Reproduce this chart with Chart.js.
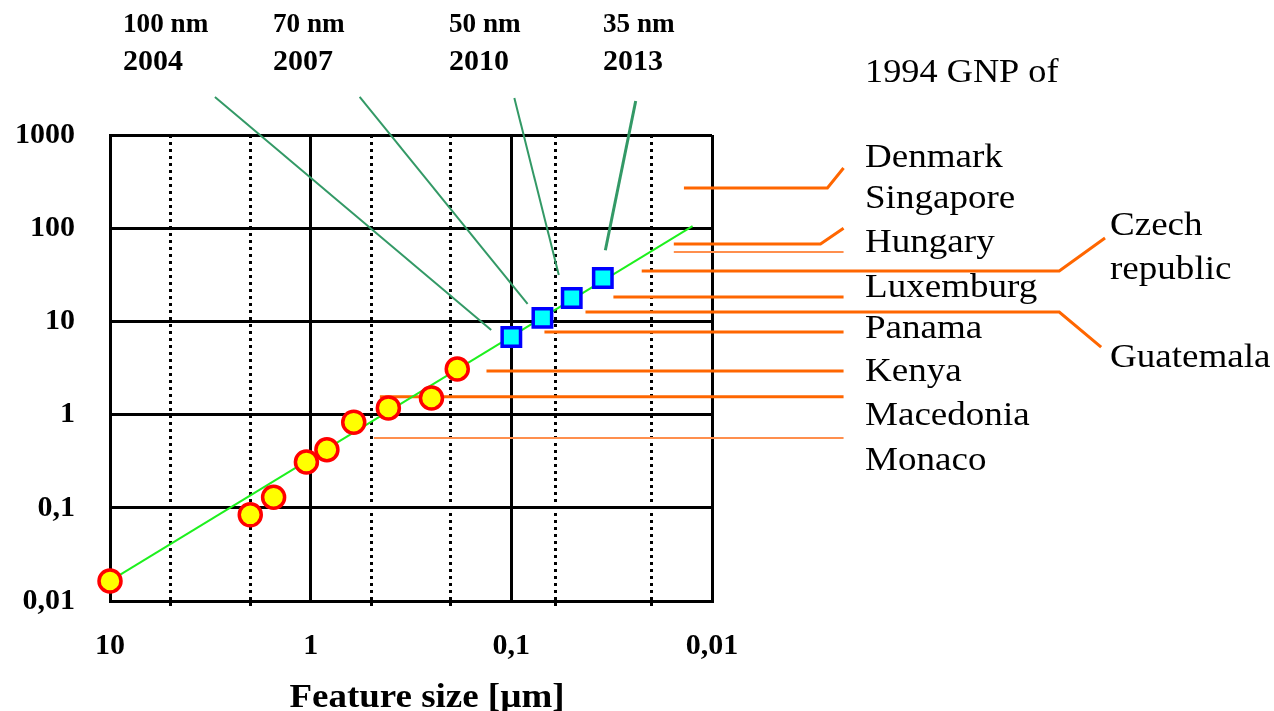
<!DOCTYPE html>
<html><head><meta charset="utf-8">
<script src="https://cdn.jsdelivr.net/npm/chart.js@4.4.1/dist/chart.umd.min.js"></script>
<style>html,body{margin:0;padding:0;background:#fff;overflow:hidden}#wrap{width:1274px;height:711px;position:relative}</style>
</head><body><div id="wrap"><canvas id="c" width="1274" height="711"></canvas></div>
<script>
// Axis ticks
const xTickValues = [10, 1, 0.1, 0.01];
const xTickLabels = ['10', '1', '0,1', '0,01'];
const xMinorGrid = [5, 2, 0.5, 0.2, 0.06, 0.02];
const yTickValues = [0.01, 0.1, 1, 10, 100, 1000];
const yTickLabels = ['0,01', '0,1', '1', '10', '100', '1000'];

// Past chips (circles): feature size [µm] vs value
const circleX = [10, 2.0, 1.53, 1.05, 0.83, 0.61, 0.41, 0.25, 0.186];
const circleY = [0.0164, 0.084, 0.13, 0.31, 0.42, 0.83, 1.18, 1.51, 3.08];

// Roadmap nodes (squares)
const nodeX = [0.1, 0.07, 0.05, 0.035];
const nodeY = [6.8, 10.9, 17.8, 29.2];
const nodeLabels = [['100 nm', '2004'], ['70 nm', '2007'], ['50 nm', '2010'], ['35 nm', '2013']];

// Trend line
const trendX = [10, 0.0125];
const trendY = [0.0164, 105];

// Connectors from node labels to squares
const connStartX = [3.0, 0.57, 0.0966, 0.024];
const connStartY = [2560, 2560, 2490, 2320];
const connEndX = [0.126, 0.083, 0.058, 0.034];
const connEndY = [8.1, 15.4, 31.5, 58];

// GNP reference lines
const gnpY = [270, 67.6, 55.6, 34.7, 18.3, 12.6, 7.7, 2.94, 1.55, 0.56];
const gnpStartX = [0.0138, 0.0155, 0.0155, 0.0224, 0.031, 0.0427, 0.0684, 0.133, 0.452, 0.484];
const gnpEndX = [0.00266, 0.00288, 0.00221, 0.000186, 0.00221, 0.000186, 0.00221, 0.00221, 0.00221, 0.00221];
const gnpBendX = [0.00221, 0.00221, null, 0.00011, null, 0.000115, null, null, null, null];
const gnpBendY = [443, 100, null, 78.5, null, 5.3, null, null, null, null];
const gnpThin = [false, false, true, false, false, false, false, false, false, true];

const gnpHeading = '1994 GNP of';
const countryNames = ['Denmark', 'Singapore', 'Hungary', 'Luxemburg', 'Panama', 'Kenya', 'Macedonia', 'Monaco'];
const sideNames = ['Czech', 'republic', 'Guatemala'];
const xAxisTitle = 'Feature size [µm]';

const SERIF = '"Liberation Serif", "Times New Roman", serif';
const pts = (xs, ys) => xs.map((x, i) => ({x: x, y: ys[i]}));

const datasets = [];
datasets.push({label: 'nodes', data: pts(nodeX, nodeY), showLine: false, pointStyle: 'rect',
  pointRadius: 13, pointBorderWidth: 3.5, backgroundColor: '#00ffff', borderColor: '#0000ff', order: 0, clip: false});
datasets.push({label: 'chips', data: pts(circleX, circleY), showLine: false, pointStyle: 'circle',
  pointRadius: 11, pointBorderWidth: 3.5, backgroundColor: '#ffff00', borderColor: '#ff0000', order: 1, clip: false});
datasets.push({label: 'trend', data: pts(trendX, trendY), showLine: true, pointRadius: 0,
  borderColor: '#1ef01e', borderWidth: 2, order: 3, clip: false});
connStartX.forEach((sx, i) => {
  datasets.push({label: 'conn' + i, data: [{x: sx, y: connStartY[i]}, {x: connEndX[i], y: connEndY[i]}],
    showLine: true, pointRadius: 0, borderColor: '#339966', borderWidth: i === 3 ? 3 : 2, order: 2, clip: false});
});
gnpY.forEach((y, i) => {
  const d = [{x: gnpStartX[i], y: y}, {x: gnpEndX[i], y: y}];
  if (gnpBendX[i] !== null) d.push({x: gnpBendX[i], y: gnpBendY[i]});
  datasets.push({label: 'gnp' + i, data: d, showLine: true, pointRadius: 0,
    borderColor: gnpThin[i] ? '#ff8f4d' : '#ff6600', borderWidth: gnpThin[i] ? 2 : 3, order: 4, clip: false});
});

const textPlugin = {
  id: 'texts',
  afterDraw(chart) {
    const ctx = chart.ctx;
    ctx.save();
    ctx.fillStyle = '#000';
    ctx.textBaseline = 'alphabetic';
    ctx.textAlign = 'left';
    const drawStretched = (t, x, y, font, sx) => {
      ctx.save();
      ctx.font = font;
      ctx.translate(x, y);
      ctx.scale(sx, 1);
      ctx.fillText(t, 0, 0);
      ctx.restore();
    };
    const nodeLeft = [123, 273, 449, 603];
    nodeLabels.forEach((lines, i) => {
      drawStretched(lines[0], nodeLeft[i], 32, 'bold 28px ' + SERIF, 0.97);
      drawStretched(lines[1], nodeLeft[i], 70, 'bold 30px ' + SERIF, 1.0);
    });
    drawStretched(gnpHeading, 865, 82, '33px ' + SERIF, 1.1);
    const cBase = [167, 208, 252, 297, 338, 381, 425, 470];
    countryNames.forEach((n, i) => drawStretched(n, 865, cBase[i], '34px ' + SERIF, 1.09));
    drawStretched(sideNames[0], 1110, 235, '34px ' + SERIF, 1.09);
    drawStretched(sideNames[1], 1110, 279, '34px ' + SERIF, 1.09);
    drawStretched(sideNames[2], 1110, 367, '34px ' + SERIF, 1.09);
    ctx.font = 'bold 33px ' + SERIF;
    const w = ctx.measureText(xAxisTitle).width * 1.12;
    drawStretched(xAxisTitle, 427 - w / 2, 707, 'bold 33px ' + SERIF, 1.12);
    ctx.restore();
  }
};

const isMinorX = (c) => c.tick && xTickValues.indexOf(c.tick.value) < 0;

new Chart(document.getElementById('c'), {
  type: 'scatter',
  data: {datasets: datasets},
  plugins: [textPlugin],
  options: {
    responsive: false,
    animation: false,
    layout: {padding: {top: 135, right: 562, bottom: 0, left: 0}},
    plugins: {legend: {display: false}, tooltip: {enabled: false}},
    scales: {
      x: {
        type: 'logarithmic', reverse: true, min: 0.01, max: 10,
        afterBuildTicks: (s) => {
          s.ticks = xTickValues.concat(xMinorGrid).sort((a, b) => b - a).map(v => ({value: v}));
        },
        afterFit: (s) => { s.height = 110; },
        ticks: {
          autoSkip: false, maxRotation: 0, minRotation: 0, padding: 21, color: '#000',
          font: {family: SERIF, size: 30, weight: 'bold'},
          callback: (v) => { const i = xTickValues.indexOf(v); return i >= 0 ? xTickLabels[i] : ''; }
        },
        grid: {
          color: '#000', lineWidth: 3, tickLength: 6, tickWidth: 3,
          tickColor: (c) => isMinorX(c) ? '#000' : 'rgba(0,0,0,0)',
          tickBorderDash: [3, 4]
        },
        border: {display: true, color: '#000', width: 3, dash: (c) => isMinorX(c) ? [3, 4] : []}
      },
      y: {
        type: 'logarithmic', min: 0.01, max: 1000,
        afterBuildTicks: (s) => { s.ticks = yTickValues.map(v => ({value: v})); },
        afterFit: (s) => { s.width = 110; },
        ticks: {
          padding: 35, color: '#000', font: {family: SERIF, size: 30, weight: 'bold'},
          callback: (v) => { const i = yTickValues.indexOf(v); return i >= 0 ? yTickLabels[i] : ''; }
        },
        grid: {color: '#000', lineWidth: 3, drawTicks: false},
        border: {display: true, color: '#000', width: 3}
      }
    }
  }
});
</script>
</body></html>
